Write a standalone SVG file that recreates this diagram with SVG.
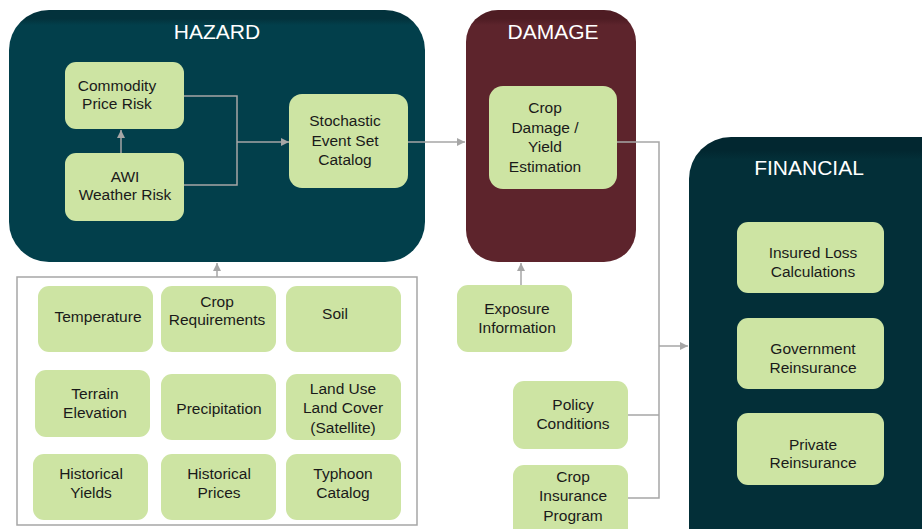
<svg xmlns="http://www.w3.org/2000/svg" width="922" height="529" viewBox="0 0 922 529">
<defs>
<linearGradient id="gH" x1="0" y1="0" x2="0" y2="1">
<stop offset="0" stop-color="#03323c"/><stop offset="0.035" stop-color="#03323c"/><stop offset="0.06" stop-color="#023f4b"/><stop offset="1" stop-color="#023f4b"/>
</linearGradient>
<linearGradient id="gD" x1="0" y1="0" x2="0" y2="1">
<stop offset="0" stop-color="#4e1c23"/><stop offset="0.035" stop-color="#4e1c23"/><stop offset="0.06" stop-color="#5d242c"/><stop offset="1" stop-color="#5d242c"/>
</linearGradient>
<linearGradient id="gF" x1="0" y1="0" x2="0" y2="1">
<stop offset="0" stop-color="#022730"/><stop offset="0.03" stop-color="#022730"/><stop offset="0.05" stop-color="#032f38"/><stop offset="1" stop-color="#032f38"/>
</linearGradient>
<marker id="ah" viewBox="0 0 10 10" refX="10" refY="5" markerWidth="9" markerHeight="8" markerUnits="userSpaceOnUse" orient="auto">
<path d="M0,0 L10,5 L0,10 z" fill="#a6a6a6"/>
</marker>
</defs>
<style>
.box{fill:#cde4a3}
.t{font-family:"Liberation Sans",Arial,sans-serif;font-size:15.5px;fill:#1a1a1a;text-anchor:middle}
.title{font-family:"Liberation Sans",Arial,sans-serif;font-size:21px;fill:#ffffff;text-anchor:middle}
.c{fill:none;stroke:#a6a6a6;stroke-width:1.5}
</style>
<rect width="922" height="529" fill="#ffffff"/>

<g id="hazard">
<rect x="9" y="10" width="416" height="252" rx="40" fill="url(#gH)"/>
<text class="title" x="217" y="39">HAZARD</text>
</g>
<g id="damage">
<rect x="466" y="10" width="170" height="252" rx="32" fill="url(#gD)"/>
<text class="title" x="553" y="39">DAMAGE</text>
</g>
<g id="financial">
<rect x="689" y="137" width="290" height="450" rx="42" fill="url(#gF)"/>
<text class="title" x="809" y="175">FINANCIAL</text>
</g>
<g id="inputs">
<rect x="17" y="277" width="400" height="248" fill="#ffffff" stroke="#a6a6a6" stroke-width="1.5"/>
</g>

<g id="connectors">
<path class="c" d="M121,153 V130" marker-end="url(#ah)"/>
<path class="c" d="M184,96 H237 V185 H184"/>
<path class="c" d="M237,142 H289" marker-end="url(#ah)"/>
<path class="c" d="M408,142 H465" marker-end="url(#ah)"/>
<path class="c" d="M217,277 V263" marker-end="url(#ah)"/>
<path class="c" d="M521,285 V263" marker-end="url(#ah)"/>
<path class="c" d="M617,142 H659 V498 H628"/>
<path class="c" d="M628,415 H659"/>
<path class="c" d="M659,346 H688" marker-end="url(#ah)"/>
</g>

<g id="commodity"><rect class="box" x="65" y="62" width="119" height="67" rx="11"/>
<text class="t" x="117" y="91">Commodity</text><text class="t" x="117" y="109">Price Risk</text></g>
<g id="awi"><rect class="box" x="65" y="153" width="119" height="68" rx="11"/>
<text class="t" x="125" y="182">AWI</text><text class="t" x="125" y="200">Weather Risk</text></g>
<g id="stochastic"><rect class="box" x="289" y="94" width="119" height="94" rx="13"/>
<text class="t" x="345" y="126">Stochastic</text><text class="t" x="345" y="146">Event Set</text><text class="t" x="345" y="165">Catalog</text></g>
<g id="cropdamage"><rect class="box" x="489" y="86" width="128" height="103" rx="14"/>
<text class="t" x="545" y="113">Crop</text><text class="t" x="545" y="133">Damage /</text><text class="t" x="545" y="152">Yield</text><text class="t" x="545" y="172">Estimation</text></g>

<g id="insured"><rect class="box" x="737" y="222" width="147" height="71" rx="11"/>
<text class="t" x="813" y="258">Insured Loss</text><text class="t" x="813" y="277">Calculations</text></g>
<g id="government"><rect class="box" x="737" y="318" width="147" height="71" rx="11"/>
<text class="t" x="813" y="354">Government</text><text class="t" x="813" y="373">Reinsurance</text></g>
<g id="private"><rect class="box" x="737" y="413" width="147" height="72" rx="11"/>
<text class="t" x="813" y="450">Private</text><text class="t" x="813" y="468">Reinsurance</text></g>

<g id="temperature"><rect class="box" x="38" y="286" width="115" height="66" rx="11"/>
<text class="t" x="98" y="322">Temperature</text></g>
<g id="croprequirements"><rect class="box" x="161" y="286" width="115" height="66" rx="11"/>
<text class="t" x="217" y="307">Crop</text><text class="t" x="217" y="325">Requirements</text></g>
<g id="soil"><rect class="box" x="286" y="286" width="115" height="66" rx="11"/>
<text class="t" x="335" y="319">Soil</text></g>
<g id="terrain"><rect class="box" x="35" y="370" width="115" height="67" rx="11"/>
<text class="t" x="95" y="399">Terrain</text><text class="t" x="95" y="418">Elevation</text></g>
<g id="precipitation"><rect class="box" x="161" y="374" width="115" height="66" rx="11"/>
<text class="t" x="219" y="414">Precipitation</text></g>
<g id="landuse"><rect class="box" x="286" y="374" width="115" height="66" rx="11"/>
<text class="t" x="343" y="394">Land Use</text><text class="t" x="343" y="413">Land Cover</text><text class="t" x="343" y="433">(Satellite)</text></g>
<g id="histyields"><rect class="box" x="33" y="454" width="115" height="66" rx="11"/>
<text class="t" x="91" y="479">Historical</text><text class="t" x="91" y="498">Yields</text></g>
<g id="histprices"><rect class="box" x="161" y="454" width="115" height="66" rx="11"/>
<text class="t" x="219" y="479">Historical</text><text class="t" x="219" y="498">Prices</text></g>
<g id="typhoon"><rect class="box" x="286" y="454" width="115" height="66" rx="11"/>
<text class="t" x="343" y="479">Typhoon</text><text class="t" x="343" y="498">Catalog</text></g>

<g id="exposure"><rect class="box" x="457" y="285" width="115" height="67" rx="11"/>
<text class="t" x="517" y="314">Exposure</text><text class="t" x="517" y="333">Information</text></g>
<g id="policy"><rect class="box" x="513" y="381" width="115" height="68" rx="11"/>
<text class="t" x="573" y="410">Policy</text><text class="t" x="573" y="429">Conditions</text></g>
<g id="cropinsurance"><rect class="box" x="513" y="465" width="115" height="75" rx="11"/>
<text class="t" x="573" y="482">Crop</text><text class="t" x="573" y="501">Insurance</text><text class="t" x="573" y="521">Program</text></g>
</svg>
